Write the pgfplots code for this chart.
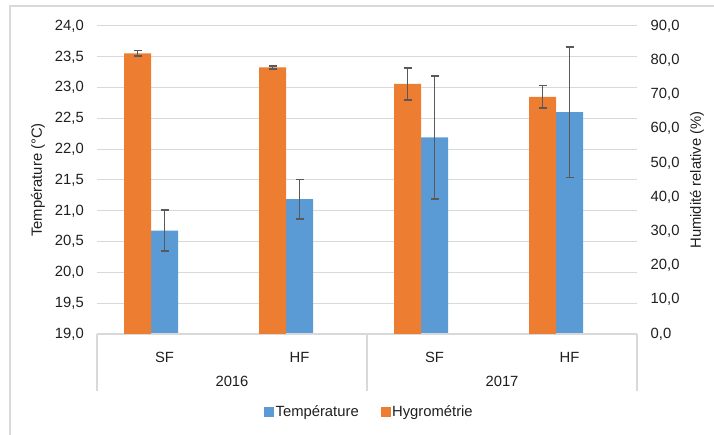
\documentclass[border=0pt]{standalone}
\usepackage{pgfplots}
\pgfplotsset{compat=1.18}
\usepackage{fontspec}
\setmainfont{Liberation Sans}
\definecolor{cblue}{HTML}{5B9BD5}
\definecolor{corange}{HTML}{ED7D31}
\definecolor{cgrid}{HTML}{D9D9D9}
\definecolor{cerr}{HTML}{595959}
\definecolor{ctext}{HTML}{1F1F1F}
\begin{document}
\fontsize{14.8}{17.8}\selectfont
\begin{tikzpicture}[x=1pt,y=1pt]
\useasboundingbox (0,0) rectangle (714,435);
\draw[cgrid, line width=1.5pt] (10,0) -- (10,429) -- (714,429);
\pgfplotsset{
  myaxis/.style={
    scale only axis, width=540pt, height=308pt,
    at={(97pt,101pt)}, anchor=south west,
    xmin=-0.5, xmax=3.5,
    ybar, bar width=0.2,
    axis line style={draw=none},
    tick style={draw=none},
    every tick label/.append style={font=\fontsize{14.8}{17.8}\selectfont, text=ctext},
    label style={font=\fontsize{14.8}{17.8}\selectfont, text=ctext},
    yticklabel style={/pgf/number format/fixed, /pgf/number format/fixed zerofill, /pgf/number format/precision=1, /pgf/number format/use comma, /pgf/number format/assume math mode=true, inner sep=0pt},
    error bars/error bar style={cerr, line width=1.6pt},
    error bars/error mark options={cerr, line width=1.6pt, mark size=4pt, rotate=90},
  }
}
\begin{axis}[myaxis,
  ymin=19, ymax=24, ytick distance=0.5,
  ymajorgrids, grid style={cgrid, line width=1pt},
  yticklabel style={xshift=-13pt},
  xtick={0,1,2,3}, xticklabels={SF,HF,SF,HF},
  xticklabel style={anchor=center, yshift=-19pt},
  ylabel={Température (°C)},
  ylabel style={at={(axis description cs:-0.1093,0.5)}, anchor=center},
  after end axis/.code={
    \draw[cgrid, line width=1.5pt] (rel axis cs:0,0) -- (rel axis cs:1,0);
    \draw[cgrid, line width=1.5pt] (rel axis cs:0,0) -- ++(0,-57pt);
    \draw[cgrid, line width=1.5pt] (rel axis cs:0.5,0) -- ++(0,-57pt);
    \draw[cgrid, line width=1.5pt] (rel axis cs:1,0) -- ++(0,-57pt);
    \node[text=ctext, anchor=center] at (rel axis cs:0.25,0) [yshift=-47pt] {2016};
    \node[text=ctext, anchor=center] at (rel axis cs:0.75,0) [yshift=-47pt] {2017};
  },
]
\addplot[fill=cblue, draw=none, bar shift=0pt, error bars/.cd, y dir=both, y explicit] coordinates {
  (0,20.68) +- (0,0.33)
  (1,21.19) +- (0,0.32)
  (2,22.19) +- (0,1.00)
  (3,22.60) +- (0,1.06)
};
\end{axis}
\begin{axis}[myaxis,
  ymin=0, ymax=90, ytick distance=10,
  yticklabel pos=right,
  yticklabel style={xshift=13.5pt},
  xtick=\empty,
  ylabel={Humidité relative (\%)},
  ylabel style={at={(axis description cs:1.1111,0.5)}, anchor=center},
  legend style={at={(axis description cs:0.5046,-0.253)}, anchor=center, draw=none, fill=none,
    font=\fontsize{14.8}{17.8}\selectfont, text=ctext,
    /tikz/every even column/.append style={column sep=20pt},
    nodes={inner sep=2pt}},
  legend columns=2,
]
\addplot[forget plot, fill=corange, draw=none, bar shift=0pt, error bars/.cd, y dir=both, y explicit] coordinates {
  (-0.2,82.0) +- (0,0.8)
  (0.8,77.9) +- (0,0.4)
  (1.8,73.1) +- (0,4.7)
  (2.8,69.3) +- (0,3.3)
};
\addlegendimage{legend image code/.code={\fill[cblue] (0pt,-4.5pt) rectangle (9pt,4.5pt);}}
\addlegendentry{Température}
\addlegendimage{legend image code/.code={\fill[corange] (0pt,-4.5pt) rectangle (9pt,4.5pt);}}
\addlegendentry{Hygrométrie}
\end{axis}
\end{tikzpicture}
\end{document}
